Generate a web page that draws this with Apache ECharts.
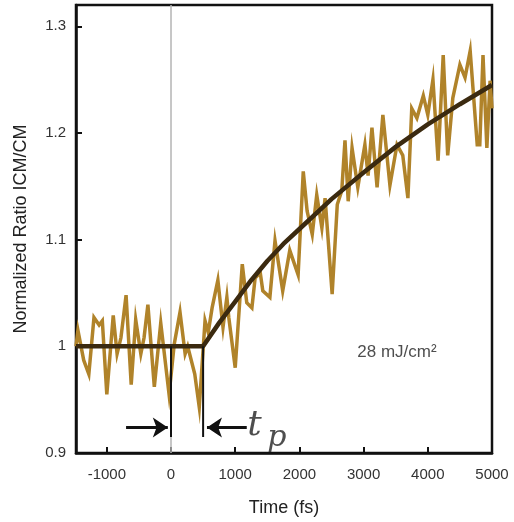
<!DOCTYPE html>
<html><head><meta charset="utf-8">
<script src="https://cdn.jsdelivr.net/npm/echarts@6/dist/echarts.min.js"></script>
<style>html,body{margin:0;padding:0;background:#fff}#c{width:514px;height:522px}</style>
</head><body><div id="c"></div>
<script>
const xTicks = [-1000, 0, 1000, 2000, 3000, 4000, 5000];
const yTicks = [0.9, 1.0, 1.1, 1.2, 1.3];
const times = [-1480,-1450,-1360,-1280,-1200,-1120,-1070,-1000,-900,-840,-780,-700,-620,-550,-470,-420,-360,-260,-160,-30,50,140,220,260,370,440,530,580,640,730,810,870,900,1000,1110,1180,1260,1310,1390,1430,1540,1620,1740,1850,1980,2060,2120,2200,2270,2350,2400,2510,2590,2660,2710,2760,2820,2910,3020,3070,3130,3210,3300,3410,3520,3610,3690,3750,3830,3930,4000,4080,4160,4240,4310,4390,4500,4580,4660,4770,4810,4860,4920,4970,5000];
const ratio = [1.000,1.015,0.987,0.974,1.027,1.020,1.024,0.955,1.029,0.993,1.008,1.048,0.964,1.025,0.993,1.008,1.039,0.962,1.022,0.955,1.002,1.032,0.993,1.000,0.974,0.943,1.024,1.013,1.036,1.062,1.018,1.046,1.027,0.980,1.077,1.041,1.036,1.064,1.069,1.052,1.046,1.099,1.052,1.090,1.067,1.164,1.127,1.105,1.142,1.111,1.139,1.049,1.133,1.146,1.193,1.136,1.186,1.149,1.189,1.160,1.205,1.149,1.217,1.151,1.189,1.179,1.139,1.223,1.214,1.235,1.217,1.250,1.174,1.273,1.179,1.233,1.264,1.252,1.277,1.189,1.189,1.273,1.186,1.249,1.223];
const fitTimes = [-1480,500,750,1000,1250,1500,1750,2000,2500,3000,3500,4000,4500,5000];
const fitValues = [1.0,1.0,1.022,1.042,1.062,1.080,1.096,1.110,1.138,1.163,1.187,1.208,1.227,1.245];
const tpStart = 0, tpEnd = 500;
const markBottom = 0.915, arrowY = 0.924;
const fluenceLabel = '28 mJ/cm²';

const chart = echarts.init(document.getElementById('c'));
const zip = (a, b) => a.map((v, i) => [v, b[i]]);
chart.setOption({
  animation: false,
  grid: {left: 76, right: 22, top: 5, bottom: 66, show: true, borderColor: '#111', borderWidth: 2.5},
  xAxis: {
    type: 'value', min: -1480, max: 5000,
    name: 'Time (fs)', nameLocation: 'middle', nameGap: 46,
    nameTextStyle: {fontFamily: 'Liberation Sans', fontSize: 18, color: '#222'},
    axisLine: {onZero: false, lineStyle: {color: '#111', width: 2.5}},
    axisTick: {inside: true, length: 6, lineStyle: {color: '#111', width: 2}, customValues: xTicks},
    axisLabel: {customValues: xTicks, margin: 14, fontFamily: 'Liberation Sans', fontSize: 15, color: '#333',
      formatter: v => String(v)},
    splitLine: {show: false}
  },
  yAxis: {
    type: 'value', min: 0.9, max: 1.32,
    name: 'Normalized Ratio ICM/CM', nameLocation: 'middle', nameGap: 46,
    nameTextStyle: {fontFamily: 'Liberation Sans', fontSize: 18, color: '#222'},
    axisLine: {onZero: false, lineStyle: {color: '#111', width: 2.5}},
    axisTick: {inside: true, length: 6, lineStyle: {color: '#111', width: 2}, customValues: yTicks},
    axisLabel: {customValues: yTicks, margin: 10, fontFamily: 'Liberation Sans', fontSize: 15, color: '#333',
      formatter: v => (Math.abs(v - 1) < 1e-9 ? '1' : v.toFixed(1))},
    splitLine: {show: false}
  },
  series: [
    {type: 'line', data: [[0, 0.9], [0, 1.32]], symbol: 'none', lineStyle: {color: '#b4b4b4', width: 1.5}, z: 1},
    {type: 'line', data: zip(times, ratio), symbol: 'none', lineStyle: {color: '#b0832a', width: 3.5, join: 'miter'}, z: 3},
    {type: 'line', data: zip(fitTimes, fitValues), symbol: 'none', smooth: false, lineStyle: {color: '#3b2a10', width: 4.5}, z: 4},
    {type: 'line', data: [[tpStart, 1.0], [tpStart, markBottom]], symbol: 'none', lineStyle: {color: '#111', width: 2}, z: 5},
    {type: 'line', data: [[tpEnd, 1.0], [tpEnd, markBottom]], symbol: 'none', lineStyle: {color: '#111', width: 2}, z: 5},
    {type: 'lines', coordinateSystem: 'cartesian2d', symbol: ['none', 'arrow'], symbolSize: 15,
      lineStyle: {color: '#111', width: 3, opacity: 1}, z: 6,
      data: [{coords: [[-700, arrowY], [-50, arrowY]]}, {coords: [[1180, arrowY], [560, arrowY]]}]},
    {type: 'scatter', symbolSize: 0, z: 7, silent: true,
      data: [
        {value: [3520, 0.994], label: {show: true, formatter: fluenceLabel, position: 'inside', fontFamily: 'Liberation Sans', fontSize: 17, color: '#222'}},
        {value: [1300, 0.926], label: {show: true, formatter: 't', position: 'inside', fontFamily: 'DejaVu Serif', fontStyle: 'italic', fontSize: 36, color: '#222'}},
        {value: [1650, 0.914], label: {show: true, formatter: 'p', position: 'inside', fontFamily: 'DejaVu Serif', fontStyle: 'italic', fontSize: 30, color: '#222'}}
      ]}
  ]
});
</script></body></html>
